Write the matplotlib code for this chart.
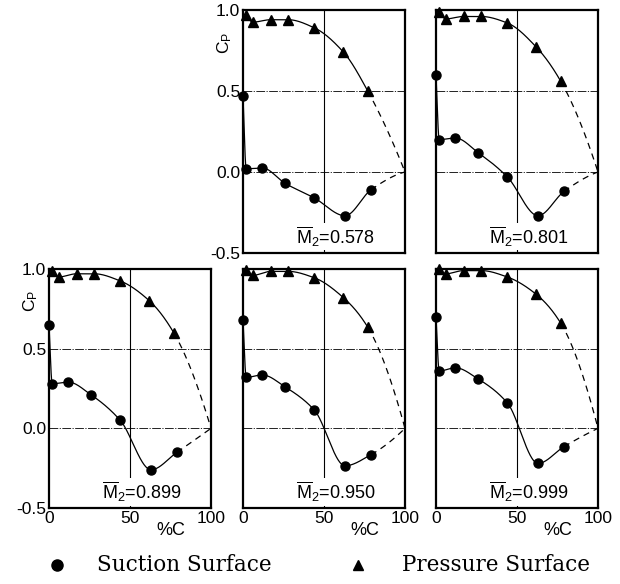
import numpy as np
import matplotlib
matplotlib.use("Agg")
import matplotlib.pyplot as plt
from matplotlib import font_manager
from matplotlib.lines import Line2D

# ---- data -------------------------------------------------------------
mach_labels = ["0.578", "0.801", "0.899", "0.950", "0.999"]

suction_x = [0, 2, 12, 26, 44, 63, 79]
pressure_x = [2, 6, 17, 28, 44, 62, 77]

suction_cp = [
    [0.47, 0.02, 0.025, -0.07, -0.16, -0.27, -0.11],
    [0.60, 0.20, 0.21, 0.12, -0.03, -0.27, -0.12],
    [0.65, 0.28, 0.29, 0.21, 0.05, -0.26, -0.15],
    [0.68, 0.32, 0.335, 0.26, 0.115, -0.235, -0.165],
    [0.70, 0.36, 0.38, 0.31, 0.16, -0.22, -0.115],
]
pressure_cp = [
    [0.97, 0.925, 0.94, 0.94, 0.89, 0.74, 0.50],
    [0.99, 0.945, 0.96, 0.96, 0.92, 0.77, 0.56],
    [0.985, 0.95, 0.97, 0.97, 0.925, 0.80, 0.60],
    [0.995, 0.96, 0.985, 0.985, 0.945, 0.82, 0.635],
    [1.00, 0.97, 0.99, 0.99, 0.95, 0.84, 0.66],
]

# trailing edge where both surfaces meet
trailing_x = 100
trailing_cp = 0.0

x_ticks = [0, 50, 100]
x_ticklabels = ["0", "50", "100"]
y_ticks = [-0.5, 0.0, 0.5, 1.0]
y_ticklabels = ["-0.5", "0.0", "0.5", "1.0"]

legend_labels = ["Suction Surface", "Pressure Surface"]

# ---- fonts ------------------------------------------------------------
available = {f.name for f in font_manager.fontManager.ttflist}
num_font = "Liberation Sans Narrow" if "Liberation Sans Narrow" in available else "Liberation Sans"
plt.rcParams["font.family"] = [num_font, "DejaVu Sans"]
plt.rcParams["mathtext.fontset"] = "custom"
plt.rcParams["mathtext.rm"] = num_font
plt.rcParams["mathtext.it"] = num_font + ":italic"


def pchip(x, y, xs):
    """Shape-preserving piecewise cubic Hermite curve through (x, y)."""
    x = np.asarray(x, float)
    y = np.asarray(y, float)
    h = np.diff(x)
    d = np.diff(y) / h
    n = len(x)
    m = np.zeros(n)
    for k in range(1, n - 1):
        if d[k - 1] * d[k] > 0:
            w1 = 2 * h[k] + h[k - 1]
            w2 = h[k] + 2 * h[k - 1]
            m[k] = (w1 + w2) / (w1 / d[k - 1] + w2 / d[k])

    def end_slope(h0, h1, d0, d1):
        s = ((2 * h0 + h1) * d0 - h0 * d1) / (h0 + h1)
        if np.sign(s) != np.sign(d0):
            return 0.0
        if np.sign(d0) != np.sign(d1) and abs(s) > abs(3 * d0):
            return 3 * d0
        return s

    m[0] = end_slope(h[0], h[1], d[0], d[1])
    m[-1] = end_slope(h[-1], h[-2], d[-1], d[-2])
    xs = np.asarray(xs, float)
    idx = np.clip(np.searchsorted(x, xs) - 1, 0, n - 2)
    t = (xs - x[idx]) / h[idx]
    h00 = 2 * t**3 - 3 * t**2 + 1
    h10 = t**3 - 2 * t**2 + t
    h01 = -2 * t**3 + 3 * t**2
    h11 = t**3 - t**2
    return h00 * y[idx] + h10 * h[idx] * m[idx] + h01 * y[idx + 1] + h11 * h[idx] * m[idx + 1]


def draw_surface(ax, xs_meas, cp_meas, marker):
    xk = list(xs_meas) + [trailing_x]
    yk = list(cp_meas) + [trailing_cp]
    solid_x = np.linspace(xs_meas[0], xs_meas[-1], 300)
    dash_x = np.linspace(xs_meas[-1], trailing_x, 120)
    ax.plot(solid_x, pchip(xk, yk, solid_x), color="black", lw=0.9, zorder=3)
    ax.plot(dash_x, pchip(xk, yk, dash_x), color="black", lw=0.9,
            ls=(0, (5, 4)), zorder=3)
    ax.plot(xs_meas, cp_meas, ls="none", marker=marker, ms=6.5 if marker == "o" else 7,
            color="black", clip_on=False, zorder=4)


# ---- layout -----------------------------------------------------------
fig = plt.figure(figsize=(6.2, 5.84), dpi=100)
W, H = 620.0, 584.0
col_left = [49, 243, 436]
col_w = 162
top_row = (10, 253)
bot_row = (269, 508)

panel_slots = [(1, top_row), (2, top_row), (0, bot_row), (1, bot_row), (2, bot_row)]

for i, (col, (y0, y1)) in enumerate(panel_slots):
    ax = fig.add_axes([col_left[col] / W, 1 - y1 / H, col_w / W, (y1 - y0) / H])
    ax.set_xlim(0, 100)
    ax.set_ylim(-0.5, 1.0)
    for sp in ax.spines.values():
        sp.set_linewidth(1.6)
    ax.tick_params(length=0, pad=2, labelsize=12.5)

    # reference lines
    for yv in (0.5, 0.0):
        ax.axhline(yv, color="#222222", lw=0.7, ls=(0, (9, 1.5, 1.2, 1.5)), zorder=1)
    ax.axvline(50, color="black", lw=0.8, zorder=1)

    draw_surface(ax, suction_x, suction_cp[i], "o")
    draw_surface(ax, pressure_x, pressure_cp[i], "^")

    ax.text(57, -0.40, r"$\overline{\mathrm{M}}_{\mathrm{2}}$=" + mach_labels[i],
            ha="center", va="center", fontsize=13, zorder=5,
            bbox=dict(fc="white", ec="none", pad=1.0))

    ax.set_xticks(x_ticks)
    ax.set_yticks(y_ticks)
    first_in_row = (i == 0 or i == 2)
    if first_in_row:
        ax.set_yticklabels(y_ticklabels)
        ax.text(-0.115, 0.80, r"C$_{\mathrm{P}}$", transform=ax.get_yaxis_transform(),
                rotation=90, ha="center", va="center", fontsize=12.5)
    else:
        ax.set_yticklabels([])
    if y0 == bot_row[0]:
        ax.set_xticklabels(x_ticklabels)
        ax.annotate("%C", xy=(75, 0), xycoords=("data", "axes fraction"),
                    xytext=(0, -10), textcoords="offset points",
                    ha="center", va="top", fontsize=13)
    else:
        ax.set_xticklabels([])

# ---- key --------------------------------------------------------------
key_y = 1 - 565 / H
key_entries = [("o", 8, 57, 97, legend_labels[0]), ("^", 7, 358, 402, legend_labels[1])]
for mk, size, mx, tx, label in key_entries:
    fig.add_artist(Line2D([mx / W], [key_y], transform=fig.transFigure,
                          ls="none", marker=mk, ms=size, color="black"))
    fig.text(tx / W, key_y, label, ha="left", va="center",
             family="DejaVu Serif", fontsize=15.5)

fig.savefig("out.png", dpi=100)
